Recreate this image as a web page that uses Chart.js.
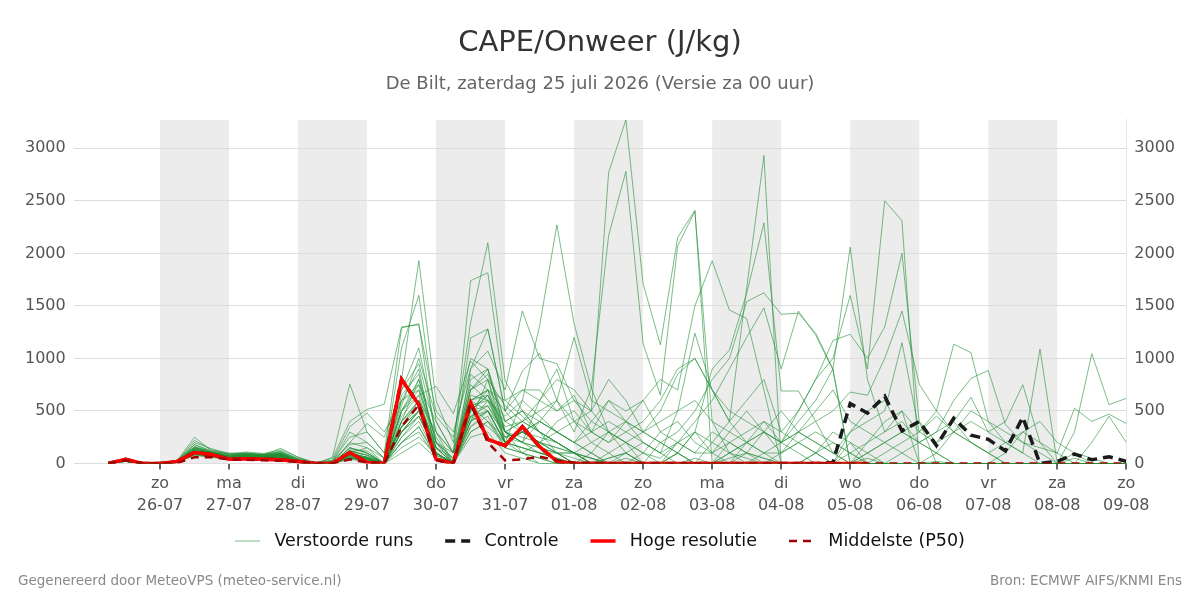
<!DOCTYPE html>
<html>
<head>
<meta charset="utf-8">
<script src="https://cdn.jsdelivr.net/npm/chart.js@4/dist/chart.umd.min.js"></script>
<style>
  html, body { margin: 0; padding: 0; background: #fff; }
  #wrap { position: relative; width: 1200px; height: 600px; }
  canvas { display: block; }
  .foot { position: absolute; top: 571px; font-family: 'DejaVu Sans', sans-serif; font-size: 13.5px; color: #888; line-height: 18px; white-space: nowrap; }
  #fl { left: 18px; }
  #fr { right: 18px; }
</style>
</head>
<body>
<div id="wrap">
  <canvas id="c" width="1200" height="600"></canvas>
  <div class="foot" id="fl">Gegenereerd door MeteoVPS (meteo-service.nl)</div>
  <div class="foot" id="fr">Bron: ECMWF AIFS/KNMI Ens</div>
</div>
<script>
// ---- time axis (hours relative to zo 26-07 00:00), 6-hourly steps ----
const startHour = -18;
const stepHours = 6;
const nSteps = 60;
const hours = Array.from({length: nSteps}, (_, i) => startHour + stepHours * i);

// ---- tick labels ----
const dayNames = ['zo','ma','di','wo','do','vr','za','zo','ma','di','wo','do','vr','za','zo'];
const dayDates = ['26-07','27-07','28-07','29-07','30-07','31-07','01-08','02-08','03-08','04-08','05-08','06-08','07-08','08-08','09-08'];
const shadedDays = [0, 2, 4, 6, 8, 10, 12];
const yTicks = [0, 500, 1000, 1500, 2000, 2500, 3000];

// ---- special series ----
const controle = [0,40,0, 0,20,105,85, 40,45,40,35, 20,0,0,105, 10,0,800,560, 40,0,580,230, 170,350,160,20, 0,0,0,0, 0,0,0,0, 0,0,0,0, 0,0,0,10, 570,480,640,310, 400,170,430,270, 230,120,440,0, 20,90,35,65, 20];
const hogeResolutie = [0,40,0, 0,20,105,85, 40,45,40,35, 20,0,0,105, 10,0,800,560, 40,0,580,230, 170,350,160,20, 0,0,0,0, 0,0,0,0, 0,0,0,0, 0,0,0,0, 0,0];
const middelste = [0,30,0, 0,5,60,60, 40,35,30,25, 15,0,0,40, 10,0,350,560, 30,0,570,200, 30,40,65,30, 10,5,0,0, 0,0,0,0, 0,0,0,0, 0,0,0,0, 0,0,0,0, 0,0,0,0, 0,0,0,0, 0,0,0,0, 0];

// ---- perturbed members (Verstoorde runs) ----
const m01 = [0,50,0, 10,30,250,120, 90,100,80,120, 40,0,10,300, 200,50,700,1100, 300,0,900,1280, 500,700,600,900, 400,500,2770,3270, 1710,1130,2150,2410, 0,200,100,50, 0,0,0,0, 0,50,0,0, 0,0,0,0, 0,0,0,0, 0,0,0,0, 0];
const m02 = [0,40,0, 5,20,180,110, 80,90,70,100, 30,0,0,150, 100,0,500,800, 200,50,700,900, 300,400,500,600, 300,716,2170,2780, 1140,650,2070,2400, 400,100,50,0, 0,0,0,0, 0,0,0,0, 0,20,0,0, 0,0,0,0, 0,0,0,0, 0];
const m03 = [0,30,0, 0,15,150,100, 70,80,60,70, 20,0,0,80, 50,0,600,900, 100,0,400,800, 200,600,1310,2270, 1330,716,300,100, 0,0,100,300, 200,100,0,0, 0,0,100,300, 200,0,0,0, 0,0,0,0, 0,0,0,0, 0,50,0,0, 0];
const m04 = [0,35,0, 0,20,200,140, 90,110,95,130, 60,10,30,250, 300,100,800,1930, 600,200,1340,2100, 785,500,300,200, 100,0,0,50, 0,0,0,0, 0,0,0,0, 0,0,0,0, 0,0,0,0, 0,0,0,0, 0,0,0,0, 0,0,0,0, 0];
const m05 = [0,45,0, 10,25,220,130, 100,95,90,110, 50,0,20,200, 150,50,1100,1600, 400,100,1740,1815, 600,450,300,100, 0,0,50,100, 0,0,0,50, 0,0,0,0, 0,0,0,0, 0,0,0,0, 0,0,0,0, 0,0,0,0, 0,0,0,0, 0];
const m06 = [0,40,0, 0,30,160,110, 70,85,80,100, 40,0,60,755, 300,100,1290,1330, 200,0,600,700, 500,300,200,100, 0,0,0,0, 0,0,0,0, 0,0,0,0, 0,0,0,0, 0,0,0,0, 0,0,0,0, 0,0,0,0, 0,0,0,0, 0];
const m07 = [0,30,0, 0,20,140,100, 60,80,70,90, 30,0,50,400, 515,565,1300,1320, 500,300,900,1070, 700,1450,1000,950, 600,400,300,200, 0,0,0,0, 0,0,0,0, 0,0,0,0, 0,0,0,0, 0,0,0,0, 0,0,0,0, 0,0,0,0, 0];
const m08 = [0,25,0, 0,15,120,90, 50,70,60,80, 20,0,0,100, 50,0,400,600, 300,100,1195,1280, 500,880,1050,600, 1200,600,500,400, 300,500,850,1000, 700,400,200,100, 0,0,0,0, 0,0,0,0, 0,0,0,0, 0,0,0,0, 0,0,0,0, 0];
const m09 = [0,20,0, 0,10,100,80, 50,60,50,60, 20,0,0,50, 30,0,300,500, 100,0,500,650, 300,400,600,500, 650,300,200,400, 600,800,700,1500, 1930,1460,1380,700, 0,0,0,0, 0,0,0,0, 0,0,0,0, 0,0,0,0, 0,0,0,0, 0];
const m10 = [0,30,0, 0,15,130,90, 60,75,65,85, 30,0,0,120, 80,0,500,700, 150,0,800,900, 400,500,300,200, 100,50,0,100, 200,100,500,1240, 700,400,1670,2930, 0,0,100,200, 100,0,0,0, 0,0,0,0, 0,0,0,0, 0,0,0,0, 0];
const m11 = [0,35,0, 0,20,150,100, 70,80,70,90, 30,0,0,150, 100,0,650,850, 200,50,700,800, 300,200,100,50, 0,0,0,0, 0,0,100,300, 900,1080,1620,2290, 690,690,400,100, 0,0,0,0, 0,0,0,0, 0,0,0,0, 0,0,0,0, 0];
const m12 = [0,25,0, 0,20,110,80, 60,70,60,70, 20,0,0,90, 60,0,450,650, 100,0,600,700, 200,300,200,100, 0,100,0,0, 0,200,300,500, 800,1000,1540,1625, 1420,1430,1240,900, 0,0,0,0, 0,0,0,0, 0,0,0,0, 0,0,0,0, 0];
const m13 = [0,30,0, 0,15,140,100, 60,80,70,90, 30,0,0,150, 100,0,500,750, 150,0,700,850, 400,500,400,300, 200,100,0,0, 100,50,200,400, 600,900,1200,1480, 900,1450,1220,890, 0,0,0,0, 0,0,0,0, 0,0,0,0, 0,0,0,0, 0];
const m14 = [0,20,0, 0,10,90,70, 40,60,50,60, 10,0,0,80, 50,0,300,500, 100,0,400,600, 300,200,400,300, 200,100,300,200, 100,300,400,200, 100,300,500,300, 200,400,600,900, 2060,800,300,500, 0,0,0,0, 0,0,0,0, 0,0,0,0, 0];
const m15 = [0,25,0, 0,15,100,80, 50,70,60,80, 20,0,0,100, 50,0,350,550, 150,0,500,700, 300,250,200,150, 100,0,50,100, 0,0,100,0, 200,400,600,800, 300,500,800,1170, 1230,1000,1300,2000, 400,0,0,0, 0,0,0,0, 0,0,0,0, 0];
const m16 = [0,30,0, 0,20,120,90, 60,75,65,80, 20,0,0,100, 60,0,400,600, 100,0,500,650, 200,300,250,200, 100,50,0,0, 0,0,200,100, 100,200,300,400, 200,500,800,1000, 1600,900,2500,2310, 0,0,0,0, 0,0,0,0, 0,0,0,0, 0];
const m17 = [0,20,0, 0,10,80,60, 40,50,50,60, 10,0,0,60, 30,0,250,400, 80,0,350,500, 200,150,100,50, 0,0,100,200, 300,200,100,0, 0,100,200,300, 200,300,400,500, 680,650,1000,1450, 755,500,300,200, 100,0,0,0, 0,0,0,0, 0];
const m18 = [0,25,0, 0,15,100,80, 50,60,55,70, 20,0,0,70, 40,0,300,450, 100,0,450,550, 250,200,150,100, 50,0,0,0, 0,0,0,0, 0,0,0,100, 200,300,200,100, 300,400,500,1150, 300,500,1135,1055, 400,200,100,0, 0,0,0,0, 0];
const m19 = [0,30,0, 0,20,130,100, 70,80,70,80, 20,0,0,90, 60,0,350,500, 100,0,550,600, 250,300,200,150, 100,50,0,0, 0,0,0,0, 0,0,0,0, 0,0,0,0, 100,200,300,400, 200,300,600,810, 885,370,200,100, 0,0,0,0, 0];
const m20 = [0,20,0, 0,10,90,70, 40,60,50,60, 10,0,0,60, 30,0,200,350, 50,0,300,400, 150,100,50,0, 0,0,0,0, 0,0,0,0, 0,0,0,0, 0,0,0,0, 0,0,100,200, 300,200,400,630, 300,200,100,1090, 0,100,50,0, 0];
const m21 = [0,25,0, 0,15,110,90, 50,70,60,70, 20,0,0,80, 50,0,300,450, 100,0,400,500, 200,150,100,50, 0,0,0,0, 0,0,0,0, 0,0,0,0, 0,0,0,0, 0,0,0,0, 0,0,0,0, 0,100,300,200, 0,300,1045,560, 620];
const m22 = [0,30,0, 0,20,120,90, 60,70,60,70, 20,0,0,90, 50,0,350,500, 100,0,500,550, 300,200,150,100, 100,0,0,0, 0,0,0,0, 0,0,0,0, 0,0,0,0, 0,100,200,300, 400,200,300,400, 300,400,750,200, 100,525,400,470, 380];
const m23 = [0,35,0, 0,20,160,110, 80,90,80,100, 30,0,20,180, 200,50,600,750, 400,100,850,700, 600,700,700,500, 600,500,800,600, 300,400,500,600, 400,300,200,100, 100,200,100,0, 200,100,0,0, 0,0,0,0, 0,0,0,0, 0,0,0,0, 0];
const m24 = [0,20,0, 0,10,90,70, 40,55,50,60, 10,0,0,50, 20,0,200,300, 50,0,300,400, 200,300,400,600, 400,300,200,300, 400,600,900,1000, 700,500,400,300, 200,100,0,0, 0,0,0,0, 0,0,0,0, 0,0,0,0, 0,0,0,0, 0];
const m25 = [0,30,0, 0,15,130,100, 70,80,70,90, 30,0,0,200, 380,250,700,950, 300,100,650,600, 450,600,450,300, 200,400,600,500, 600,300,200,100, 300,200,100,0, 100,300,500,700, 400,300,200,100, 0,0,0,0, 0,0,0,0, 0,0,0,0, 0];
const m26 = [0,25,0, 0,20,110,90, 60,70,65,75, 20,0,0,120, 80,0,400,800, 200,0,600,500, 300,200,600,800, 700,500,300,200, 100,0,0,0, 0,0,100,300, 500,300,200,100, 0,0,0,100, 200,300,400,200, 100,0,0,0, 0,0,0,0, 0];
const m27 = [0,40,0, 0,25,180,120, 90,100,85,110, 40,0,30,350, 480,300,600,700, 250,0,450,350, 200,300,200,100, 0,0,0,0, 0,0,0,0, 0,0,0,0, 0,0,0,0, 0,0,0,0, 0,0,0,0, 0,0,0,0, 0,0,0,0, 0];
const m28 = [0,30,0, 0,15,120,100, 70,90,80,145, 60,0,0,100, 150,0,500,650, 735,475,975,800, 550,400,300,200, 100,0,0,0, 0,0,0,0, 0,0,0,0, 0,0,0,0, 0,0,0,0, 0,0,0,0, 0,0,0,0, 0,0,0,0, 0];
const m29 = [0,25,0, 0,15,100,80, 50,60,55,65, 20,0,0,60, 40,0,150,250, 100,0,350,450, 150,100,200,400, 500,300,600,400, 200,100,0,0, 0,50,100,50, 0,0,0,0, 0,0,0,0, 0,0,0,0, 0,0,0,0, 0,0,0,0, 0];
const m30 = [0,20,0, 0,10,80,60, 40,50,45,55, 10,0,0,40, 20,0,100,200, 50,0,250,300, 100,50,0,0, 0,0,0,0, 0,0,0,0, 0,0,0,0, 0,0,0,0, 0,0,0,0, 0,0,0,0, 0,0,0,0, 0,0,0,0, 0];
const m31 = [0,30,0, 0,20,140,100, 70,80,75,90, 30,0,0,130, 120,0,550,1000, 450,250,1000,900, 300,100,0,0, 0,0,0,0, 0,0,0,0, 0,0,0,0, 0,0,0,0, 0,100,200,300, 200,100,0,0, 0,0,0,0, 0,0,0,0, 0];
const m32 = [0,25,0, 0,15,110,80, 50,65,60,70, 20,0,0,70, 50,0,250,450, 150,50,550,400, 250,300,400,300, 200,300,400,300, 200,100,200,300, 100,0,200,300, 100,200,300,200, 100,0,0,0, 0,0,0,0, 0,0,0,0, 0,0,0,0, 0];
const m33 = [0,35,0, 0,20,150,110, 80,90,80,95, 30,0,0,110, 80,0,400,550, 200,100,750,600, 400,300,200,300, 400,200,100,0, 0,0,0,0, 0,100,200,400, 300,200,100,0, 300,500,600,300, 200,100,0,0, 0,0,0,0, 0,0,0,0, 0];
const m34 = [0,20,0, 0,10,90,70, 40,60,50,60, 10,0,0,50, 30,0,200,350, 80,0,400,500, 200,100,50,0, 0,0,0,0, 0,0,0,0, 0,0,0,0, 0,0,0,0, 0,200,400,500, 300,450,300,500, 400,300,200,150, 100,0,200,450, 200];
const m35 = [0,25,0, 0,15,100,90, 50,70,60,75, 20,0,0,80, 40,0,300,500, 100,0,450,500, 200,150,100,100, 100,200,300,400, 300,200,100,0, 0,0,0,0, 0,0,0,0, 0,0,0,0, 0,100,300,200, 100,200,300,400, 200,100,0,0, 0];
const m36 = [0,30,0, 0,15,120,90, 60,75,65,80, 20,0,0,90, 60,0,350,600, 150,0,600,650, 350,400,300,200, 100,0,0,0, 0,0,0,0, 0,0,0,0, 0,0,0,0, 0,0,0,0, 0,0,0,0, 0,0,0,0, 0,0,0,0, 0];

const members = [m01,m02,m03,m04,m05,m06,m07,m08,m09,m10,m11,m12,m13,m14,m15,m16,m17,m18,m19,m20,m21,m22,m23,m24,m25,m26,m27,m28,m29,m30,m31,m32,m33,m34,m35,m36];

// ---- build datasets ----
const toPts = arr => arr.map((v, i) => ({x: hours[i], y: v}));
const greenColor = 'rgba(35,145,55,0.6)';
const memberDs = (arr, label) => ({
  label: label, data: toPts(arr), borderColor: greenColor, backgroundColor: greenColor,
  borderWidth: 1, pointRadius: 0, tension: 0, fill: false, order: 3
});

const datasets = [
  memberDs(members[0], 'Verstoorde runs'),
  { label: 'Controle', data: toPts(controle), borderColor: '#1a1a1a', backgroundColor: '#1a1a1a',
    borderWidth: 3.5, borderDash: [10, 6], pointRadius: 0, tension: 0, fill: false, order: 2 },
  { label: 'Hoge resolutie', data: toPts(hogeResolutie), borderColor: '#ff0000', backgroundColor: '#ff0000',
    borderWidth: 3.5, pointRadius: 0, tension: 0, fill: false, order: 1 },
  { label: 'Middelste (P50)', data: toPts(middelste), borderColor: '#a00000', backgroundColor: '#a00000',
    borderWidth: 2.5, borderDash: [8, 6], pointRadius: 0, tension: 0, fill: false, order: 0 }
];
for (let k = 1; k < members.length; k++) datasets.push(memberDs(members[k], ''));

// ---- plugins ----
const bandPlugin = {
  id: 'bands',
  beforeDraw(chart) {
    const {ctx, chartArea, scales} = chart;
    ctx.save();
    ctx.fillStyle = '#ffffff';
    ctx.fillRect(0, 0, chart.width, chart.height);
    ctx.fillStyle = '#ececec';
    shadedDays.forEach(d => {
      const x0 = scales.x.getPixelForValue(d * 24);
      const x1 = scales.x.getPixelForValue((d + 1) * 24);
      ctx.fillRect(x0, chartArea.top, x1 - x0, chartArea.bottom - chartArea.top);
    });
    ctx.restore();
  }
};
const legendFontSize = 17.5;
const legendPadding = 32;
const legendCenterY = 541;
const legendShift = {
  id: 'legendShift',
  afterLayout(chart) {
    const lg = chart.legend;
    if (!lg) return;
    const desiredTop = legendCenterY - legendPadding - legendFontSize / 2;
    const d = lg.top - desiredTop;
    lg.top -= d; lg.bottom -= d;
  }
};

Chart.defaults.font.family = "'DejaVu Sans', sans-serif";

new Chart(document.getElementById('c'), {
  type: 'line',
  data: { datasets },
  options: {
    responsive: false,
    animation: false,
    devicePixelRatio: 1,
    layout: { padding: { left: 17, right: 17, top: 0, bottom: 21 } },
    plugins: {
      title: { display: true, text: 'CAPE/Onweer (J/kg)', color: '#333', font: { size: 29, weight: 'normal' }, padding: { top: 26, bottom: 12.5 } },
      subtitle: { display: true, text: 'De Bilt, zaterdag 25 juli 2026 (Versie za 00 uur)', color: '#666', font: { size: 18, weight: 'normal' }, padding: { top: 0, bottom: 25 } },
      legend: {
        position: 'bottom',
        labels: {
          usePointStyle: true, pointStyle: 'line', pointStyleWidth: 25,
          color: '#111', font: { size: legendFontSize }, padding: legendPadding,
          generateLabels: chart => Chart.defaults.plugins.legend.labels.generateLabels(chart)
            .map(it => {
              const ds = chart.data.datasets[it.datasetIndex];
              return Object.assign(it, {
                text: ' ' + it.text,
                lineDash: ds.borderDash || [],
                lineWidth: ds.borderWidth,
                strokeStyle: ds.borderColor,
                lineCap: 'butt'
              });
            }),
          filter: item => item.datasetIndex < 4,
          sort: (a, b) => a.datasetIndex - b.datasetIndex
        }
      },
      tooltip: { enabled: false }
    },
    scales: {
      x: {
        type: 'linear', min: -30, max: 336,
        afterBuildTicks: s => { s.ticks = dayDates.map((_, k) => ({ value: k * 24 })); },
        ticks: {
          autoSkip: false, maxRotation: 0, color: '#555', padding: 3,
          font: { size: 16, lineHeight: 1.375 },
          callback: (v, idx) => [dayNames[idx], dayDates[idx]]
        },
        grid: { drawOnChartArea: false, drawTicks: true, tickLength: 6, color: '#666', lineWidth: 2 },
        border: { display: false }
      },
      y: {
        position: 'left', min: 0, max: 3270,
        afterBuildTicks: s => { s.ticks = yTicks.map(v => ({ value: v })); },
        ticks: { color: '#555', font: { size: 16 }, padding: 8, callback: v => String(v) },
        grid: { color: '#dddddd', lineWidth: 1, drawTicks: false },
        border: { display: false }
      },
      y2: {
        position: 'right', min: 0, max: 3270,
        afterBuildTicks: s => { s.ticks = yTicks.map(v => ({ value: v })); },
        ticks: { color: '#555', font: { size: 16 }, padding: 8, callback: v => String(v) },
        grid: { drawOnChartArea: false, drawTicks: false },
        border: { display: true, color: '#e6e6e6', width: 1 }
      }
    }
  },
  plugins: [bandPlugin, legendShift]
});
</script>
</body>
</html>
